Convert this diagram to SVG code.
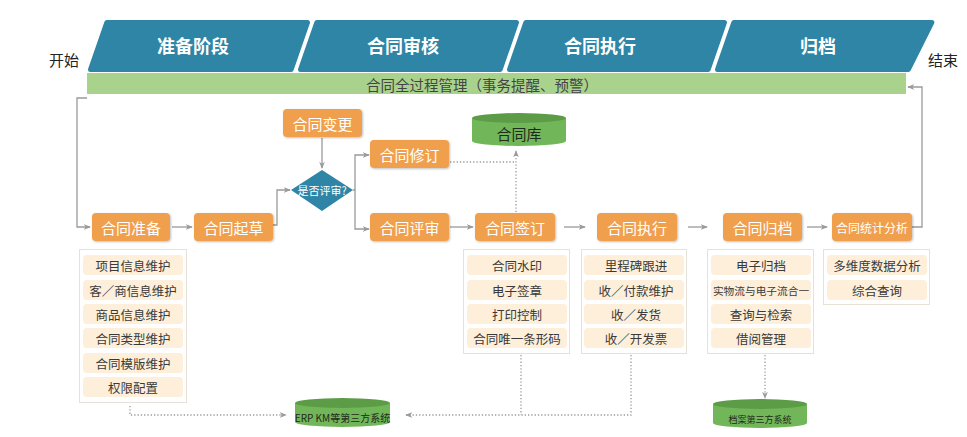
<svg xmlns="http://www.w3.org/2000/svg" width="967" height="437" viewBox="0 0 967 437">
<defs>
<marker id="arr" viewBox="0 0 8 8" refX="7" refY="4" markerWidth="7" markerHeight="7" markerUnits="userSpaceOnUse" orient="auto">
<path d="M0,0.8 L8,4 L0,7.2 L2,4 Z" fill="#9a9a9a"/>
</marker>
<style>
text{font-family:"Noto Sans CJK SC","Noto Sans",sans-serif;text-anchor:middle;dominant-baseline:central}
.phase polygon{fill:#2f85a5;stroke:#2f85a5;stroke-width:5;stroke-linejoin:round}
.phase text{fill:#ffffff;font-size:18px;font-weight:bold}
.node rect{fill:#f0a04c;filter:drop-shadow(1px 1px 1px rgba(0,0,0,0.25))}
.node text{fill:#ffffff;font-size:15px}
.panel{fill:#ffffff;stroke:#e6e2d8;stroke-width:1}
.item rect{fill:#fdefd9}
.item text{fill:#3a3a3a;font-size:12.5px}
.cyl .body{fill:#72b65a}
.cyl .top{fill:#5d9c46}
.cyl text{fill:#1f2a1a}
.line{fill:none;stroke:#9a9a9a;stroke-width:1.3}
.dot{fill:none;stroke:#9a9a9a;stroke-width:1.3;stroke-dasharray:1.3 2}
.lbl{fill:#222;font-size:15px}
</style>
</defs>
<rect width="967" height="437" fill="#ffffff"/>

<g id="phases" class="phase">
<g id="phase-prep"><polygon points="90.5,69.5 106.8,22.5 307.5,22.5 291.2,69.5"/><text x="193" y="45">准备阶段</text></g>
<g id="phase-review"><polygon points="300.5,69.5 316.8,22.5 516.5,22.5 500.2,69.5"/><text x="403" y="45">合同审核</text></g>
<g id="phase-exec"><polygon points="509.5,69.5 525.8,22.5 724.5,22.5 708.2,69.5"/><text x="600" y="45">合同执行</text></g>
<g id="phase-archive"><polygon points="717.5,69.5 733.8,22.5 931.9,22.5 908.4,69.5"/><text x="818" y="45">归档</text></g>
</g>
<text class="lbl" x="64" y="59">开始</text>
<text class="lbl" x="943" y="59">结束</text>

<g id="mgmt-bar">
<rect x="87" y="73" width="819" height="21" fill="#a9d38c"/>
<text x="482" y="84" style="font-size:14.5px;fill:#444">合同全过程管理（事务提醒、预警）</text>
</g>

<g id="connectors">
<polyline class="line" points="87,98 77,98 77,227 90,227" marker-end="url(#arr)"/>
<polyline class="line" points="912,227 922,227 922,87 908,87" marker-end="url(#arr)"/>
<line class="line" x1="172" y1="227" x2="192" y2="227" marker-end="url(#arr)"/>
<polyline class="line" points="273,225 277,225 277,190 290,190" marker-end="url(#arr)"/>
<line class="line" x1="322" y1="138" x2="322" y2="168" marker-end="url(#arr)"/>
<polyline class="line" points="353,190 355,190 355,155 369,155" marker-end="url(#arr)"/>
<polyline class="line" points="355,190 355,229 369,229" marker-end="url(#arr)"/>
<line class="line" x1="450" y1="227" x2="473" y2="227" marker-end="url(#arr)"/>
<line class="line" x1="564" y1="227" x2="585" y2="227" marker-end="url(#arr)"/>
<line class="line" x1="688" y1="227" x2="707" y2="227" marker-end="url(#arr)"/>
<line class="line" x1="807" y1="227" x2="827" y2="227" marker-end="url(#arr)"/>
<polyline class="dot" points="450,162 516,162"/>
<line class="dot" x1="516" y1="212" x2="516" y2="151" marker-end="url(#arr)"/>
<polyline class="dot" points="130,406 130,415 286,415" marker-end="url(#arr)"/>
<polyline class="dot" points="631,355 631,415 406,415" marker-end="url(#arr)"/>
<line class="dot" x1="521" y1="355" x2="521" y2="415"/>
<line class="dot" x1="765" y1="355" x2="765" y2="398" marker-end="url(#arr)"/>
</g>

<g id="n-prepare" class="node"><rect x="92" y="213" width="78" height="28" rx="4"/><text x="131" y="227">合同准备</text></g>
<g id="n-draft" class="node"><rect x="194" y="213" width="79" height="28" rx="4"/><text x="233.5" y="227">合同起草</text></g>
<g id="n-change" class="node"><rect x="283" y="109" width="79" height="28" rx="4"/><text x="322.5" y="123">合同变更</text></g>
<g id="n-decide"><polygon points="322,170 353,190 322,211 291,190" fill="#2f85a5"/><text x="322" y="190" style="fill:#fff;font-size:11px">是否评审?</text></g>
<g id="n-revise" class="node"><rect x="370" y="140" width="79" height="28" rx="4"/><text x="409.5" y="154">合同修订</text></g>
<g id="n-review" class="node"><rect x="370" y="213" width="79" height="28" rx="4"/><text x="409.5" y="227">合同评审</text></g>
<g id="n-sign" class="node"><rect x="475" y="213" width="80" height="28" rx="4"/><text x="515" y="227">合同签订</text></g>
<g id="n-exec" class="node"><rect x="597" y="213" width="80" height="28" rx="4"/><text x="637" y="227">合同执行</text></g>
<g id="n-archive" class="node"><rect x="723" y="213" width="79" height="28" rx="4"/><text x="762.5" y="227">合同归档</text></g>
<g id="n-stats" class="node"><rect x="832" y="213" width="80" height="28" rx="4"/><text x="872" y="227" style="font-size:12px">合同统计分析</text></g>

<g id="db-contract" class="cyl">
<path class="body" d="M472,118 L472,141 A47,5 0 0 0 566,141 L566,118 Z"/>
<ellipse class="top" cx="519" cy="118" rx="47" ry="5"/>
<text x="519" y="133" style="font-size:15px">合同库</text>
</g>
<g id="db-erp" class="cyl">
<path class="body" d="M295,403 L295,422 A47.5,5 0 0 0 390,422 L390,403 Z"/>
<ellipse class="top" cx="342.5" cy="403" rx="47.5" ry="5"/>
<text x="342.5" y="417" style="font-size:10px">ERP KM等第三方系统</text>
</g>
<g id="db-archive" class="cyl">
<path class="body" d="M713,404 L713,423 A47,5 0 0 0 807,423 L807,404 Z"/>
<ellipse class="top" cx="760" cy="404" rx="47" ry="5"/>
<text x="760" y="419" style="font-size:9px">档案第三方系统</text>
</g>

<g id="panel-prepare">
<rect class="panel" x="79.5" y="249.5" width="107" height="153"/>
<g class="item"><rect x="83" y="255" width="100" height="20" rx="4"/><text x="133" y="265">项目信息维护</text></g>
<g class="item"><rect x="83" y="280" width="100" height="20" rx="4"/><text x="133" y="290">客／商信息维护</text></g>
<g class="item"><rect x="83" y="304" width="100" height="20" rx="4"/><text x="133" y="314">商品信息维护</text></g>
<g class="item"><rect x="83" y="328" width="100" height="20" rx="4"/><text x="133" y="338">合同类型维护</text></g>
<g class="item"><rect x="83" y="353" width="100" height="20" rx="4"/><text x="133" y="363">合同模版维护</text></g>
<g class="item"><rect x="83" y="377" width="100" height="20" rx="4"/><text x="133" y="387">权限配置</text></g>
</g>
<g id="panel-sign">
<rect class="panel" x="463.5" y="249.5" width="106" height="104"/>
<g class="item"><rect x="467" y="255" width="100" height="20" rx="4"/><text x="517" y="265">合同水印</text></g>
<g class="item"><rect x="467" y="280" width="100" height="20" rx="4"/><text x="517" y="290">电子签章</text></g>
<g class="item"><rect x="467" y="304" width="100" height="20" rx="4"/><text x="517" y="314">打印控制</text></g>
<g class="item"><rect x="467" y="328" width="100" height="20" rx="4"/><text x="517" y="338">合同唯一条形码</text></g>
</g>
<g id="panel-exec">
<rect class="panel" x="581.5" y="249.5" width="105" height="104"/>
<g class="item"><rect x="584" y="255" width="100" height="20" rx="4"/><text x="636" y="265">里程碑跟进</text></g>
<g class="item"><rect x="584" y="280" width="100" height="20" rx="4"/><text x="636" y="290">收／付款维护</text></g>
<g class="item"><rect x="584" y="304" width="100" height="20" rx="4"/><text x="636" y="314">收／发货</text></g>
<g class="item"><rect x="584" y="328" width="100" height="20" rx="4"/><text x="636" y="338">收／开发票</text></g>
</g>
<g id="panel-archive">
<rect class="panel" x="707.5" y="249.5" width="106" height="104"/>
<g class="item"><rect x="711" y="255" width="100" height="20" rx="4"/><text x="761" y="265">电子归档</text></g>
<g class="item"><rect x="711" y="280" width="100" height="20" rx="4"/><text x="761" y="290" style="font-size:10.7px">实物流与电子流合一</text></g>
<g class="item"><rect x="711" y="304" width="100" height="20" rx="4"/><text x="761" y="314">查询与检索</text></g>
<g class="item"><rect x="711" y="328" width="100" height="20" rx="4"/><text x="761" y="338">借阅管理</text></g>
</g>
<g id="panel-stats">
<rect class="panel" x="823.5" y="249.5" width="106" height="55"/>
<g class="item"><rect x="827" y="255" width="100" height="20" rx="4"/><text x="877" y="265">多维度数据分析</text></g>
<g class="item"><rect x="827" y="280" width="100" height="20" rx="4"/><text x="877" y="290">综合查询</text></g>
</g>
</svg>
